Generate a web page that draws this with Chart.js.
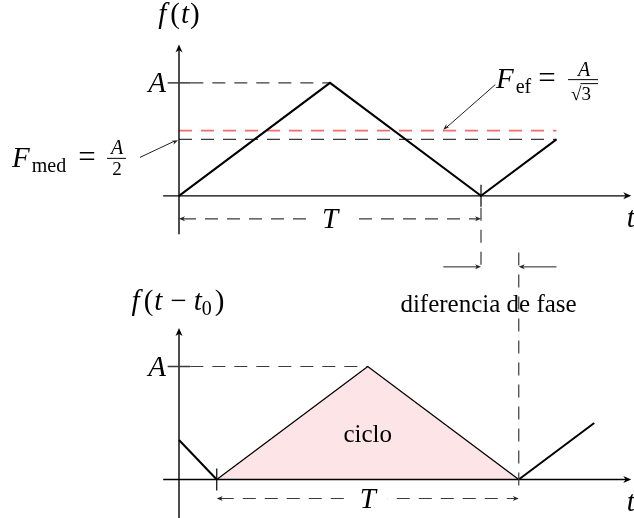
<!DOCTYPE html>
<html>
<head>
<meta charset="utf-8">
<script src="https://cdn.jsdelivr.net/npm/chart.js@4.4.0/dist/chart.umd.min.js"></script>
<style>
  html, body { margin: 0; padding: 0; background: #fff; }
  canvas { display: block; }
</style>
</head>
<body>
<canvas id="graficoFase" width="634" height="518"></canvas>
<script>
// un periodo T = 4 unidades de tiempo, amplitud A = 1
const tiempoOriginal = [0, 2, 4, 5];
const valorOriginal = [0, 1, 0, 0.5];

const tiempoDesfasado = [0, 0.5, 2.5, 4.5, 5.5];
const valorDesfasado = [0.35, 0, 1, 0, 0.5];

const periodo = 4;
const desfase = 0.5;
const amplitud = 1;
const valorMedio = amplitud / 2;
const valorEficaz = amplitud / Math.sqrt(3);

// la grafica de arriba se dibuja desplazada hacia arriba en el mismo eje y
const BASE_SUP = 2.51;

const X_MIN = -179 / 75.5;
const X_MAX = X_MIN + 634 / 75.5;
const Y_MAX = 479.5 / 113;
const Y_MIN = Y_MAX - 518 / 113;

const SERIF = '"Liberation Serif", "DejaVu Serif", serif';
const IT = 'italic 29px ' + SERIF;
const RM = '29px ' + SERIF;
const IGUAL = '31px ' + SERIF;
const SUB = '20px ' + SERIF;
const FRAC = '19px ' + SERIF;
const FRAC_IT = 'italic 20px ' + SERIF;
const TXT = '25px ' + SERIF;

function puntos(ts, vs, base, desde, hasta) {
    const out = [];
    for (let i = desde; i <= hasta; i++) out.push({ x: ts[i], y: vs[i] + base });
    return out;
}

function linea(ctx, x0, y0, x1, y1, dash, color, ancho) {
    ctx.save();
    ctx.strokeStyle = color;
    ctx.lineWidth = ancho;
    ctx.setLineDash(dash);
    ctx.beginPath();
    ctx.moveTo(x0, y0);
    ctx.lineTo(x1, y1);
    ctx.stroke();
    ctx.restore();
}

function flecha(ctx, x0, y0, x1, y1, largo, ancho, color) {
    const ang = Math.atan2(y1 - y0, x1 - x0);
    ctx.save();
    ctx.translate(x1, y1);
    ctx.rotate(ang);
    ctx.fillStyle = color;
    ctx.beginPath();
    ctx.moveTo(0, 0);
    ctx.lineTo(-largo, -ancho);
    ctx.lineTo(-largo * 0.7, 0);
    ctx.lineTo(-largo, ancho);
    ctx.closePath();
    ctx.fill();
    ctx.restore();
}

// escribe trozos de texto seguidos; "sep" deja un hueco antes del trozo
function textoMath(ctx, partes, x, y, alinear) {
    let total = 0;
    partes.forEach(p => {
        ctx.font = p.fuente;
        p.w = ctx.measureText(p.texto).width;
        total += p.w + (p.sep || 0);
    });
    let cx = alinear === 'center' ? x - total / 2 : alinear === 'right' ? x - total : x;
    partes.forEach(p => {
        cx += p.sep || 0;
        ctx.font = p.fuente;
        ctx.fillText(p.texto, cx, y + (p.dy || 0));
        cx += p.w;
    });
    return total;
}

const dibujoEjes = {
    id: 'dibujoEjes',
    afterDatasetsDraw(chart) {
        const ctx = chart.ctx;
        const px = v => chart.scales.x.getPixelForValue(v);
        const py = v => chart.scales.y.getPixelForValue(v);
        const guion = [13, 9];
        const gris = '#3a3a3a';

        ctx.save();
        ctx.fillStyle = '#000';
        ctx.textAlign = 'left';
        ctx.textBaseline = 'alphabetic';

        // ejes de las dos graficas
        [BASE_SUP, 0].forEach(base => {
            const y0 = py(base);
            linea(ctx, px(-0.21), y0, px(5.99) - 4, y0, [], '#000', 1.4);
            flecha(ctx, px(0), y0, px(5.99), y0, 8, 3.5, '#000');
            linea(ctx, px(0), py(base - 0.34), px(0), py(base + 1.34) + 4, [], '#000', 1.4);
            flecha(ctx, px(0), y0, px(0), py(base + 1.34), 8, 3.5, '#000');

            const yA = py(base + amplitud);
            linea(ctx, px(-0.15), yA, px(0.15), yA, [], gris, 1.5);
            textoMath(ctx, [{ texto: 'A', fuente: IT }], px(0) - 13, yA + 9, 'right');
            textoMath(ctx, [{ texto: 't', fuente: IT }], px(5.93), y0 + 31, 'left');
        });

        // marcas en el eje t
        const ySup = py(BASE_SUP);
        const yInf = py(0);
        linea(ctx, px(periodo), ySup - 11, px(periodo), ySup + 11, [], '#000', 1.2);
        linea(ctx, px(desfase), yInf - 11, px(desfase), yInf + 11, [], '#000', 1.2);

        // lineas verticales de la diferencia de fase
        linea(ctx, px(periodo), ySup + 12, px(periodo), ySup + 76, guion, gris, 1.2);
        linea(ctx, px(periodo + desfase), yInf - 227, px(periodo + desfase), yInf + 10, guion, gris, 1.2);
        const yFase = ySup + 71;
        linea(ctx, px(periodo - desfase), yFase, px(periodo) - 4, yFase, [], '#222', 1);
        flecha(ctx, px(periodo - desfase), yFase, px(periodo), yFase, 6, 2.5, '#222');
        linea(ctx, px(periodo + 2 * desfase), yFase, px(periodo + desfase) + 4, yFase, [], '#222', 1);
        flecha(ctx, px(periodo + 2 * desfase), yFase, px(periodo + desfase), yFase, 6, 2.5, '#222');
        ctx.font = TXT;
        ctx.textAlign = 'center';
        ctx.fillText('diferencia de fase', px(4.1), py(1.478));
        ctx.textAlign = 'left';

        // cotas del periodo T
        const cotas = [
            { desde: 0, yc: ySup + 23 },
            { desde: desfase, yc: yInf + 19 }
        ];
        cotas.forEach(c => {
            const x0 = px(c.desde);
            const x1 = px(c.desde + periodo);
            linea(ctx, x0 + 4, c.yc, x1 - 4, c.yc, guion, gris, 1.2);
            flecha(ctx, x1, c.yc, x0, c.yc, 6, 2.5, '#222');
            flecha(ctx, x0, c.yc, x1, c.yc, 6, 2.5, '#222');
            const xm = (x0 + x1) / 2;
            ctx.fillStyle = '#fff';
            ctx.fillRect(xm - 20, c.yc - 10, 40, 20);
            ctx.fillStyle = '#000';
            textoMath(ctx, [{ texto: 'T', fuente: IT }], xm, c.yc + 9, 'center');
        });

        // nombres de las funciones
        textoMath(ctx, [
            { texto: 'f', fuente: IT },
            { texto: '(', fuente: RM, sep: 4 },
            { texto: 't', fuente: IT, sep: 1 },
            { texto: ')', fuente: RM, sep: 1 }
        ], px(0), py(BASE_SUP + 1.34) - 21, 'center');
        textoMath(ctx, [
            { texto: 'f', fuente: IT },
            { texto: '(', fuente: RM, sep: 4 },
            { texto: 't', fuente: IT, sep: 1 },
            { texto: '\u2212', fuente: RM, sep: 8 },
            { texto: 't', fuente: IT, sep: 7 },
            { texto: '0', fuente: SUB, dy: 5 },
            { texto: ')', fuente: RM, sep: 3 }
        ], px(0) - 1, py(1.345) - 18, 'center');

        // valor medio
        const yMed = py(BASE_SUP + valorMedio);
        linea(ctx, px(0) - 39, yMed + 18, px(0) - 5, yMed + 2, [], '#222', 1);
        flecha(ctx, px(0) - 39, yMed + 18, px(0) - 1, yMed + 1, 6, 2.2, '#222');
        textoMath(ctx, [
            { texto: 'F', fuente: IT },
            { texto: 'med', fuente: SUB, dy: 5, sep: 2 }
        ], 12, yMed + 28, 'left');
        textoMath(ctx, [{ texto: '=', fuente: IGUAL }], 87, yMed + 28, 'center');
        linea(ctx, 107, yMed + 19, 126, yMed + 19, [], '#000', 1);
        textoMath(ctx, [{ texto: 'A', fuente: FRAC_IT }], 117, yMed + 15, 'center');
        textoMath(ctx, [{ texto: '2', fuente: FRAC }], 117, yMed + 36, 'center');

        // valor eficaz
        const yEf = py(BASE_SUP + valorEficaz);
        linea(ctx, px(3.5) + 52, yEf - 46, px(3.5) + 3, yEf - 3, [], '#222', 1);
        flecha(ctx, px(3.5) + 52, yEf - 46, px(3.5), yEf - 1, 6, 2.2, '#222');
        textoMath(ctx, [
            { texto: 'F', fuente: IT },
            { texto: 'ef', fuente: SUB, dy: 5, sep: 2 }
        ], 496, yEf - 43, 'left');
        textoMath(ctx, [{ texto: '=', fuente: IGUAL }], 547, yEf - 43, 'center');
        const yBarra = yEf - 51;
        linea(ctx, 568, yBarra, 598, yBarra, [], '#000', 1);
        textoMath(ctx, [{ texto: 'A', fuente: FRAC_IT }], 584, yBarra - 4, 'center');
        ctx.font = FRAC;
        const wRaiz = ctx.measureText('\u221A').width;
        ctx.fillText('\u221A', 571, yBarra + 20);
        ctx.fillText('3', 571 + wRaiz, yBarra + 20);
        linea(ctx, 571 + wRaiz - 1, yBarra + 4, 598, yBarra + 4, [], '#000', 1);

        // etiqueta del ciclo
        ctx.font = TXT;
        ctx.textAlign = 'center';
        ctx.fillText('ciclo', px(desfase + periodo / 2), py(0.33));
        ctx.restore();
    }
};

const ondaSuperior = puntos(tiempoOriginal, valorOriginal, BASE_SUP, 0, 3);
const picoSup = { x: periodo / 2, y: BASE_SUP + amplitud };
const picoInf = { x: desfase + periodo / 2, y: amplitud };
const finSup = tiempoOriginal[tiempoOriginal.length - 1];

new Chart(document.getElementById('graficoFase').getContext('2d'), {
    type: 'scatter',
    data: {
        datasets: [{
            data: ondaSuperior,
            showLine: true,
            borderColor: '#000',
            borderWidth: 2,
            borderJoinStyle: 'miter',
            pointRadius: 0
        }, {
            data: puntos(tiempoDesfasado, valorDesfasado, 0, 0, 1),
            showLine: true,
            borderColor: '#000',
            borderWidth: 2,
            pointRadius: 0
        }, {
            data: puntos(tiempoDesfasado, valorDesfasado, 0, 3, 4),
            showLine: true,
            borderColor: '#000',
            borderWidth: 2,
            pointRadius: 0
        }, {
            data: puntos(tiempoDesfasado, valorDesfasado, 0, 1, 3),
            showLine: true,
            borderColor: '#000',
            borderWidth: 1.3,
            borderJoinStyle: 'miter',
            backgroundColor: '#fde4e6',
            fill: 'origin',
            pointRadius: 0
        }, {
            data: [{ x: 0, y: BASE_SUP + valorEficaz }, { x: finSup, y: BASE_SUP + valorEficaz }],
            showLine: true,
            borderColor: '#f26d6d',
            borderWidth: 1.6,
            borderDash: [13, 9],
            pointRadius: 0
        }, {
            data: [{ x: 0, y: BASE_SUP + valorMedio }, { x: finSup, y: BASE_SUP + valorMedio }],
            showLine: true,
            borderColor: '#3a3a3a',
            borderWidth: 1.2,
            borderDash: [13, 9],
            pointRadius: 0
        }, {
            data: [{ x: 0.15, y: picoSup.y }, picoSup],
            showLine: true,
            borderColor: '#3a3a3a',
            borderWidth: 1.2,
            borderDash: [13, 9],
            pointRadius: 0
        }, {
            data: [{ x: 0.15, y: picoInf.y }, picoInf],
            showLine: true,
            borderColor: '#3a3a3a',
            borderWidth: 1.2,
            borderDash: [13, 9],
            pointRadius: 0
        }]
    },
    options: {
        responsive: false,
        animation: false,
        events: [],
        layout: { padding: 0 },
        plugins: {
            legend: { display: false },
            tooltip: { enabled: false }
        },
        scales: {
            x: { type: 'linear', min: X_MIN, max: X_MAX, display: false },
            y: { type: 'linear', min: Y_MIN, max: Y_MAX, display: false }
        }
    },
    plugins: [dibujoEjes]
});
</script>
</body>
</html>
